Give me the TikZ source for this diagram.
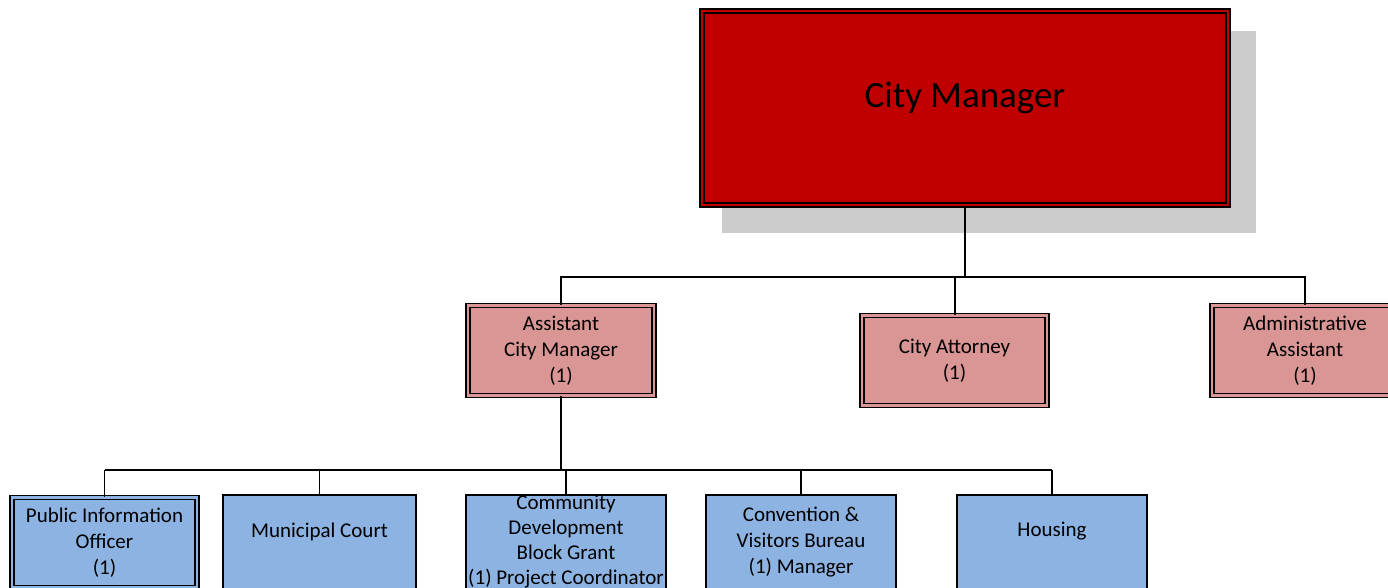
\documentclass[tikz,border=0pt]{standalone}
\usepackage{fontspec}
\setmainfont{Carlito}
\definecolor{cmred}{HTML}{C00000}
\definecolor{rose}{HTML}{D99694}
\definecolor{sky}{HTML}{8DB3E2}
\definecolor{shadowgray}{HTML}{CCCCCC}
\begin{document}
\begin{tikzpicture}[x=1pt,y=-1pt,
  box/.style={rectangle, inner sep=0pt, align=center,
    font=\fontsize{21}{26}\selectfont},
  boxtext/.style={font=\fontsize{21}{26}\selectfont},
  dbl/.style={draw=black, line width=1.8pt, double=#1,
    double distance=2.2pt, fill=#1},
  sgl/.style={draw=black, line width=1.6pt, fill=#1},
  link/.style={line width=2pt},
  thinlink/.style={line width=1.6pt}]
\useasboundingbox (0,0) rectangle (1388,588);
\clip (0,0) rectangle (1388,588);

% shadow behind the top box
\fill[shadowgray] (722,31) rectangle (1256,233);

% top level
\node[box, dbl=cmred, minimum width=526pt, minimum height=194pt,
  label={[font=\fontsize{37}{44}\selectfont, yshift=10pt]center:City Manager}]
  (cm) at (965,108) {};

% second level
\node[box, dbl=rose, minimum width=186pt, minimum height=90pt]
  (acm) at (561,350.5) {Assistant\\City Manager\\(1)};
\node[box, dbl=rose, minimum width=185pt, minimum height=90pt]
  (ca) at (954.5,360.5) {City Attorney\\(1)};
\node[box, dbl=rose, minimum width=186pt, minimum height=90pt]
  (aa) at (1305,350.5) {Administrative\\Assistant\\(1)};

% third level
\node[box, dbl=sky, minimum width=185pt, minimum height=90pt]
  (pio) at (104.5,542.5) {Public Information\\Officer\\(1)};
\node[box, sgl=sky, minimum width=193.5pt, minimum height=94.5pt,
  label={[boxtext, yshift=11pt]center:Municipal Court}]
  (mc) at (319.5,542.5) {};
\node[box, sgl=sky, minimum width=200.5pt, minimum height=94.5pt,
  font=\fontsize{21}{25}\selectfont]
  (cdbg) at (566,542) {Community\\Development\\Block Grant\\(1) Project Coordinator};
\node[box, sgl=sky, minimum width=190.5pt, minimum height=94.5pt]
  (cvb) at (801,542.5) {Convention \&\\Visitors Bureau\\(1) Manager};
\node[box, sgl=sky, minimum width=190.5pt, minimum height=94.5pt,
  label={[boxtext, yshift=11pt]center:Housing}]
  (hou) at (1052,542.5) {};

% connectors from the City Manager
\coordinate (busA) at (965,277);
\draw[link] (cm.south) -- (busA);
\draw[link] (acm.north) -- (acm.north |- busA) -- (aa.north |- busA) -- (aa.north);
\draw[link] (ca.north) -- (ca.north |- busA);

% connectors from the Assistant City Manager
\coordinate (busB) at (561,470);
\draw[line width=2.5pt] (acm.south) -- (busB);
\draw[link] (pio.north |- busB) -- (hou.north |- busB);
\foreach \n in {pio,mc,cdbg,cvb,hou}
  \draw[thinlink] (\n.north |- busB) -- (\n.north);
\end{tikzpicture}
\end{document}
